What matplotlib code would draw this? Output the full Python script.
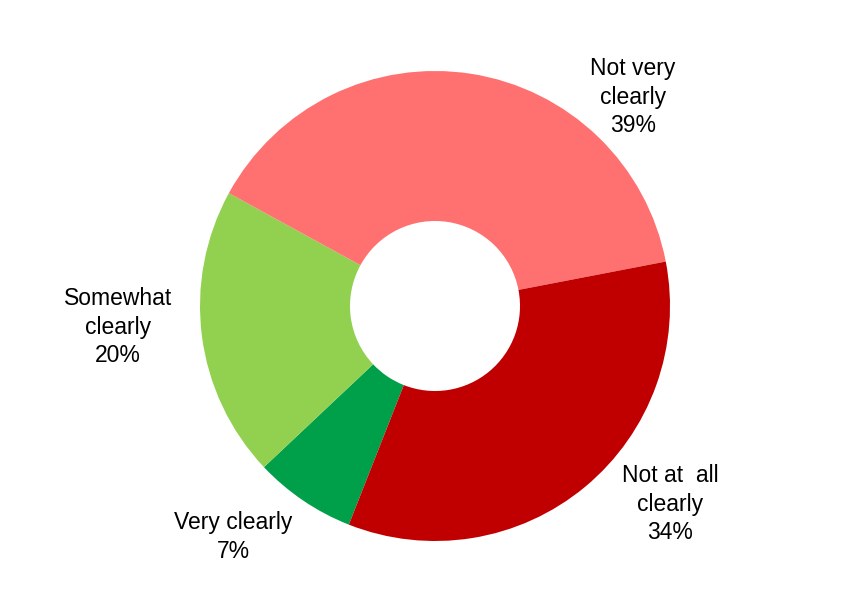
import matplotlib
matplotlib.use("Agg")
import matplotlib.pyplot as plt

plt.rcParams['font.family'] = ['Liberation Sans', 'DejaVu Sans']

# Survey responses (share of respondents, %)
categories = ["Very clearly", "Somewhat clearly", "Not very clearly", "Not at all clearly"]
label_text = ["Very clearly", "Somewhat\nclearly", "Not very\nclearly", "Not at  all\nclearly"]
values = [7, 20, 39, 34]
colors = ["#00A04B", "#92D050", "#FF7070", "#C00000"]

W, H, DPI = 852, 602, 100
fig = plt.figure(figsize=(W / DPI, H / DPI), dpi=DPI)
ax = fig.add_axes([0, 0, 1, 1])

# pixel layout of the ring
cx, cy, r_px = 435, 306, 235
hole = 85 / 235

ax.pie(values, colors=colors, startangle=-111.5, counterclock=False,
       radius=1.0, wedgeprops=dict(width=1.0 - hole, linewidth=0))
ax.set_xlim(-cx / r_px, (W - cx) / r_px)
ax.set_ylim(-(H - cy) / r_px, cy / r_px)
ax.set_aspect('equal')
ax.axis('off')

# label anchor positions in pixels (centre of each text block)
label_px = [(233, 537), (118, 327), (633, 97), (670, 504)]
for txt, v, (px, py) in zip(label_text, values, label_px):
    x = (px - cx) / r_px
    y = (cy - py) / r_px
    ax.text(x, y, f"{txt}\n{v}%", ha='center', va='center', fontsize=16.5,
            linespacing=1.28, color='black')

fig.savefig("out.png", dpi=DPI)
